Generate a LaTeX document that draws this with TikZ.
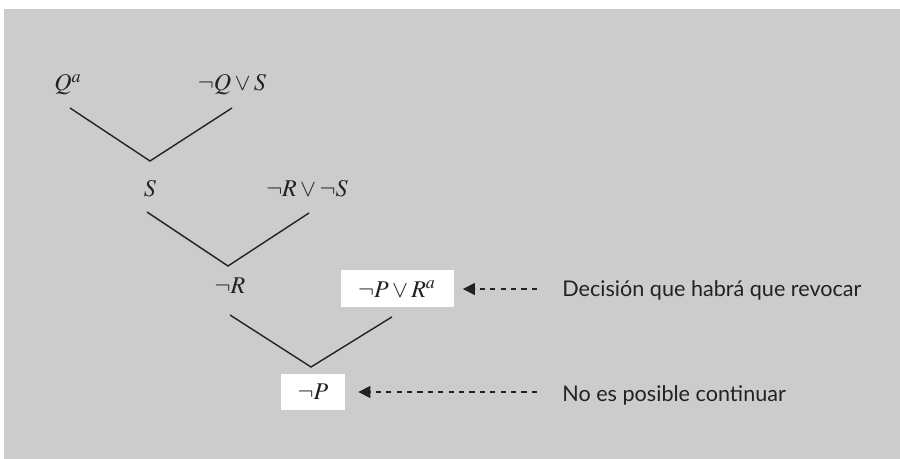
\documentclass[tikz,border=0pt]{standalone}
\usepackage{mathptmx}
\usepackage{fontspec}
\setsansfont{Lato}
\usepackage{tikz}
\usetikzlibrary{arrows.meta,positioning}

\definecolor{panelgray}{HTML}{CCCCCC}
\definecolor{inkgray}{HTML}{222222}

\begin{document}
\begin{tikzpicture}[x=0.5pt,y=-0.5pt,
  formula/.style={anchor=base,text=inkgray,font=\fontsize{12}{14}\selectfont},
  boxed/.style={anchor=center,fill=white,inner sep=0pt},
  branch/.style={draw=inkgray,line width=0.7pt},
  note/.style={draw=inkgray,line width=0.6pt,dash pattern=on 2.6pt off 2.6pt,-{Triangle[length=6pt,width=6pt]}},
  remark/.style={anchor=base west,inner sep=0pt,text=inkgray,font=\sffamily\fontsize{10.8}{13}\selectfont}]
\useasboundingbox (0,0) rectangle (900,459);
% grey panel
\fill[panelgray] (4,9) rectangle (900,459);

% clauses of the refutation tree
\node[formula] (qa) at (68,91) {$Q^a$};
\node[formula] (nqs) at (232,91) {$\neg Q\vee S$};
\node[formula] (s) at (150,197) {$S$};
\node[formula] (nrns) at (307,197) {$\neg R\vee\neg S$};
\node[formula] (nr) at (230,294) {$\neg R$};
\node[formula,boxed,minimum width=56.5pt,minimum height=18.5pt] (npr) at (397,289) {$\neg P\vee R^a$};
\node[formula,boxed,minimum width=32pt,minimum height=18pt] (np) at (313,392) {$\neg P$};

% resolution branches
\coordinate (v1) at (150,161);
\coordinate (v2) at (228,266);
\coordinate (v3) at (311,367);
\draw[branch] ([xshift=1pt,yshift=-8.5pt]qa.base) -- (v1) -- ([yshift=-8.5pt]nqs.base);
\draw[branch] ([xshift=-1.5pt,yshift=-7.5pt]s.base) -- (v2) -- ([xshift=1pt,yshift=-8pt]nrns.base);
\draw[branch] ([yshift=-10.5pt]nr.base) -- (v3) -- ([xshift=-2.5pt,yshift=-4.5pt]npr.south);

% remarks
\node[remark] (undo) at (562,297) {Decisión que habrá que revocar};
\node[remark] (stuck) at (562,402) {No es posible continuar};
\draw[note,shorten <=12.5pt,shorten >=4.5pt] (undo.west |- npr.east) -- (npr.east);
\draw[note,shorten <=12.5pt,shorten >=6.5pt] (stuck.west |- np.east) -- (np.east);
\end{tikzpicture}
\end{document}
